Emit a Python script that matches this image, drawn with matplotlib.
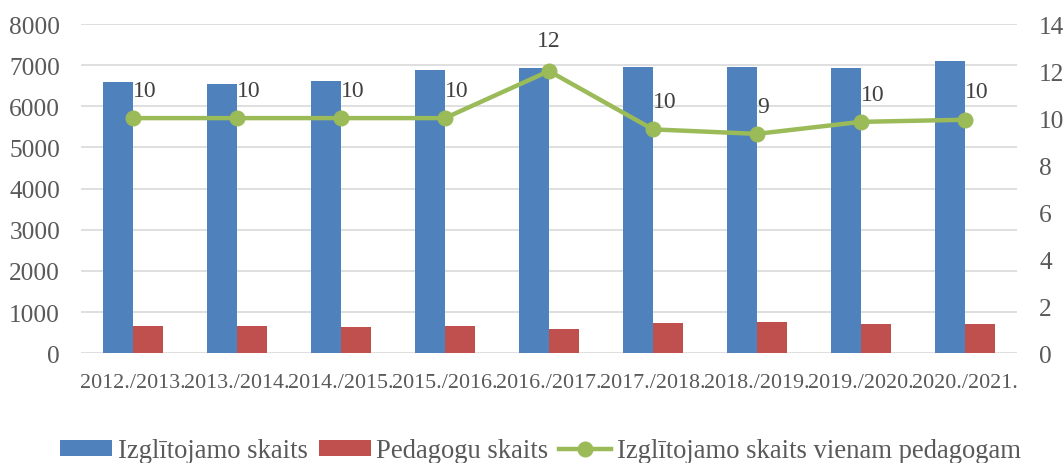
import matplotlib
matplotlib.use("Agg")
import matplotlib.pyplot as plt
import numpy as np

categories = ["2012./2013.", "2013./2014.", "2014./2015.", "2015./2016.", "2016./2017.",
              "2017./2018.", "2018./2019.", "2019./2020.", "2020./2021."]
students = [6580, 6545, 6620, 6885, 6930, 6960, 6945, 6930, 7095]
teachers = [673, 673, 649, 656, 584, 728, 752, 704, 712]
ratio = [10.0, 10.0, 10.0, 10.0, 12.0, 9.52, 9.33, 9.84, 9.93]
ratio_labels = ["10", "10", "10", "10", "12", "10", "9", "10", "10"]

plt.rcParams['font.family'] = ['Liberation Serif', 'DejaVu Serif']

fig = plt.figure(figsize=(10.64, 4.64), dpi=100)
ax = fig.add_axes([0.0761, 0.2364, 0.8797, 0.7097])
ax2 = ax.twinx()

x = np.arange(len(categories))
w = 0.284
blue = '#4f81bd'
red = '#c0504d'
green = '#9bbb59'
tick_c = '#595959'

ax.bar(x - w/2, students, width=w, color=blue, label='Izglītojamo skaits', zorder=2)
ax.bar(x + w/2, teachers, width=w, color=red, label='Pedagogu skaits', zorder=2)
ax.set_ylim(0, 8000)
ax.set_yticks(range(0, 8001, 1000))
ax.set_xlim(-0.5, len(categories) - 0.5)
ax.set_xticks(x)
ax.set_xticklabels(categories)
ax.yaxis.grid(True, color='#d9d9d9', linewidth=1.2, zorder=0)
ax.set_axisbelow(True)
for s in ax.spines.values():
    s.set_visible(False)
for s in ax2.spines.values():
    s.set_visible(False)
ax.tick_params(axis='both', length=0, colors=tick_c)
ax.tick_params(axis='y', labelsize=18.3, pad=15)
ax.tick_params(axis='x', labelsize=15.8, pad=14)

ln, = ax2.plot(x, ratio, color=green, linewidth=3.2, marker='o', markersize=10.5,
               label='Izglītojamo skaits vienam pedagogam', zorder=3)
ax2.set_ylim(0, 14)
ax2.set_yticks(range(0, 15, 2))
ax2.tick_params(axis='y', length=0, colors=tick_c, labelsize=18.3, pad=16)

for i, (v, lab) in enumerate(zip(ratio, ratio_labels)):
    if lab == "12":
        ax2.annotate(lab, (i, v), xytext=(0, 22), textcoords='offset points',
                     ha='center', va='center', fontsize=17, color='#404040')
    else:
        ax2.annotate(lab, (i, v), xytext=(0, 20), textcoords='offset points',
                     ha='left', va='center', fontsize=17, color='#404040')

h1, l1 = ax.get_legend_handles_labels()
h2, l2 = ax2.get_legend_handles_labels()
fig.legend(h1 + h2, l1 + l2, loc='center', bbox_to_anchor=(0.508, 0.026), ncol=3,
           frameon=False, fontsize=19.2, handlelength=1.95, handleheight=0.51,
           columnspacing=0.41, handletextpad=0.21, labelcolor=tick_c)

fig.savefig('out.png', dpi=100)
